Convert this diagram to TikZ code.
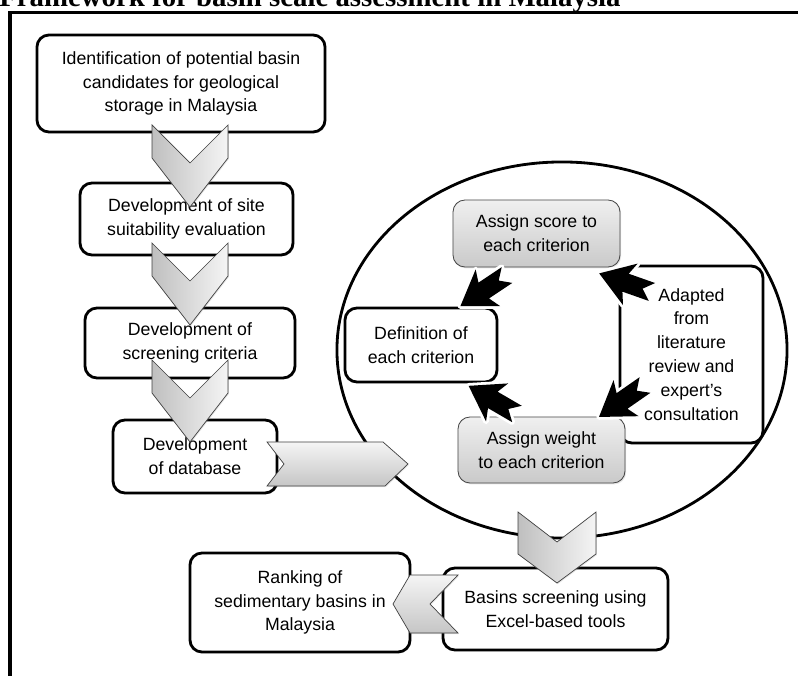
\documentclass[tikz,border=0pt]{standalone}
\usepackage{fontspec}
\setmainfont{Liberation Sans}
\newfontfamily\titlefont{Liberation Serif}
\usepackage{tikz}
\usetikzlibrary{shapes.geometric, shadows}

\tikzset{
    stepbox/.style={draw, line width=2pt, rounded corners=0.3cm, fill=white, align=center, inner sep=2pt,
        drop shadow={opacity=0.2, shadow xshift=0.8pt, shadow yshift=-1pt}},
    graybox/.style={draw=gray!55!black, line width=0.6pt, rounded corners=0.3cm, top color=gray!12, bottom color=gray!42,
        align=center, inner sep=2pt, drop shadow={opacity=0.2, shadow xshift=0.8pt, shadow yshift=-1pt}},
    chevron/.style={draw=gray!50!black, line width=0.5pt, line join=miter, left color=gray!50, right color=gray!8,
        drop shadow={opacity=0.2, shadow xshift=0.6pt, shadow yshift=-0.8pt}},
    chevronh/.style={draw=gray!50!black, line width=0.5pt, line join=miter, top color=gray!8, bottom color=gray!45,
        drop shadow={opacity=0.2, shadow xshift=0.6pt, shadow yshift=-0.8pt}},
    blkarrow/.pic={
        \path[fill=black, preaction={draw=white, line width=4pt, line join=round}]
            (0,-9.5) -- (28,-9.5) -- (23,-22) -- (56,0) -- (23,22) -- (28,9.5) -- (0,9.5) -- (10,0) -- cycle;
    }
}

\begin{document}
\begin{tikzpicture}[x=0.025cm, y=-0.025cm, font=\fontsize{12.6}{17}\selectfont]

    \useasboundingbox (0,0) rectangle (798,676);
    \clip (0,0) rectangle (798,676);

    \node[anchor=base west, inner sep=0pt, font=\titlefont\bfseries\fontsize{20.5}{24}\selectfont] (title) at (-1,7)
        {Framework for basin scale assessment in Malaysia};
    \draw[line width=2.5pt] (10,690) -- (10,12.5) -- (810,12.5);

    \node[draw, ellipse, line width=2pt, minimum width=11.25cm, minimum height=9.4cm] (ring) at (562,350) {};

    \node[stepbox, minimum width=7.2cm, minimum height=2.425cm] (ident) at (181,83.5)
        {Identification of potential basin\\candidates for geological\\storage in Malaysia};
    \node[stepbox, minimum width=5.325cm, minimum height=1.8cm] (site) at (186.5,219)
        {Development of site\\suitability evaluation};
    \node[stepbox, minimum width=5.25cm, minimum height=1.75cm] (crit) at (190,343)
        {Development of\\screening criteria};
    \node[stepbox, minimum width=4.1cm, minimum height=1.825cm] (dbase) at (195,456.5)
        {Development\\of database};

    \node[stepbox, minimum width=3.575cm, minimum height=4.425cm] (adapt) at (691.5,354.5)
        {Adapted\\from\\literature\\review and\\expert’s\\consultation};
    \node[graybox, minimum width=4.175cm, minimum height=1.675cm] (score) at (536.5,233.5)
        {Assign score to\\each criterion};
    \node[stepbox, minimum width=3.8cm, minimum height=1.85cm] (defn) at (421,345)
        {Definition of\\each criterion};
    \node[graybox, minimum width=4.175cm, minimum height=1.65cm] (weight) at (541.5,450)
        {Assign weight\\to each criterion};

    \node[stepbox, minimum width=5.5cm, minimum height=2.475cm] (rank) at (300,602.5)
        {Ranking of\\sedimentary basins in\\Malaysia};
    \node[stepbox, minimum width=5.625cm, minimum height=2.05cm] (excel) at (555.5,609)
        {Basins screening using\\Excel-based tools};

    \foreach \t in {125,243,360}
        \path[chevron] (152,\t) -- ++(0,33) -- ++(38,49) -- ++(38,-49) -- ++(0,-33) -- ++(-38,38) -- cycle;
    \path[chevron] (518,512) -- ++(0,42) -- ++(39,29) -- ++(39,-29) -- ++(0,-42) -- ++(-39,30) -- cycle;
    \path[chevronh] (267,442) -- (383,442) -- (408,464) -- (385,486) -- (267,486) -- (284,464) -- cycle;
    \path[chevronh] (458,575) -- (410,575) -- (393,604) -- (410,633) -- (458,633) -- (430,604) -- cycle;

    \coordinate (sa) at (507,275);
    \coordinate (sb) at (652,292);
    \coordinate (sc) at (645,385);
    \coordinate (sd) at (517,414);
    \pic[rotate=213.7] at (sa) {blkarrow};
    \pic[rotate=160.6] at (sb) {blkarrow};
    \pic[rotate=214.8] at (sc) {blkarrow};
    \pic[rotate=149.8] at (sd) {blkarrow};

\end{tikzpicture}
\end{document}
